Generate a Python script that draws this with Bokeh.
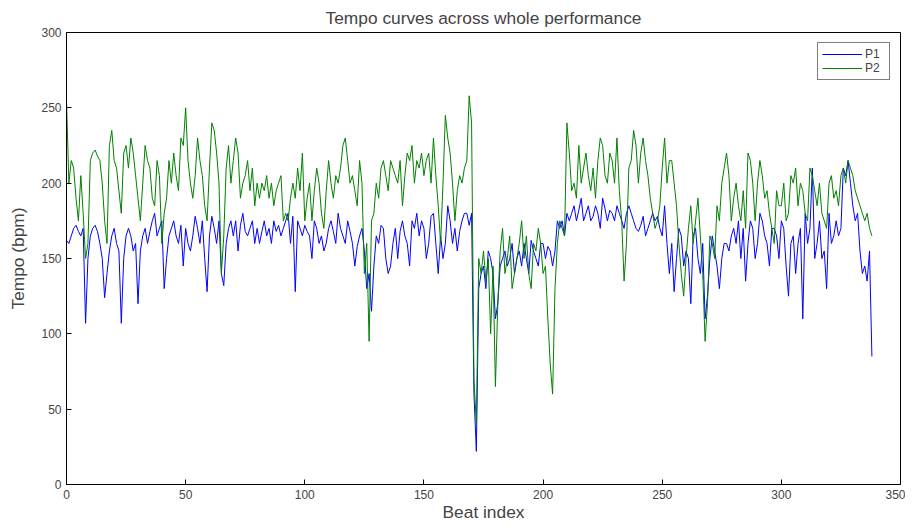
from bokeh.plotting import figure
from bokeh.embed import file_html
from bokeh.resources import INLINE
from bokeh.models import FixedTicker, Range1d, Legend, LegendItem

p1 = [162,160,165,170,172,168,165,170,107,150,
165,170,172,168,160,150,124,140,155,165,
170,160,155,107,150,165,170,165,155,160,
120,155,165,170,160,168,175,180,165,170,
175,130,150,165,170,175,165,160,172,145,
170,160,155,165,178,170,160,175,150,128,
165,178,170,160,175,140,132,160,170,175,
165,175,155,172,180,168,165,170,175,160,
170,160,168,175,165,170,160,175,168,172,
165,170,175,180,160,178,128,175,170,165,
172,168,165,150,175,170,160,165,155,160,
170,175,168,160,180,170,165,160,175,168,
160,145,158,165,170,155,130,140,115,145,
165,160,172,170,150,140,145,160,170,150,
168,175,165,160,145,175,170,180,165,175,
170,150,160,178,180,160,140,165,150,160,
185,175,160,170,155,168,175,180,180,172,
180,60,22,130,140,145,130,155,150,140,
110,120,145,150,155,145,150,160,140,150,
155,145,160,150,140,162,155,150,145,160,
160,150,158,155,145,155,175,170,175,165,
180,175,180,185,175,182,190,175,180,185,
175,178,185,180,170,190,183,175,182,180,
175,185,180,175,170,180,185,180,175,170,
168,172,178,165,170,175,180,175,178,170,
165,185,160,140,160,128,150,170,165,145,
155,150,120,165,170,150,140,160,110,125,
150,165,155,145,130,150,160,160,155,165,
170,160,175,150,170,135,160,175,170,150,
160,180,175,165,160,145,170,170,165,150,
175,170,145,125,160,165,140,160,170,110,
180,160,170,210,150,160,175,150,155,130,
180,160,165,175,165,170,210,205,215,200,
185,175,180,155,140,145,135,155,85]

p2 = [255,200,215,210,190,175,205,180,150,160,
215,220,222,218,215,200,175,160,225,235,
215,210,195,180,220,225,210,230,220,205,
190,175,200,225,215,210,190,185,215,205,
160,180,190,215,200,220,205,195,230,225,
250,215,200,190,205,230,215,205,185,175,
210,240,235,220,200,140,165,210,225,200,
215,230,220,190,200,205,215,195,210,185,
200,190,200,195,205,190,200,185,195,200,
205,175,180,175,190,200,190,210,195,220,
175,190,200,175,195,210,200,180,170,195,
215,200,190,205,200,210,225,230,215,200,
205,195,185,215,200,140,160,95,175,180,
200,190,210,215,205,195,215,210,205,200,
215,185,205,220,215,225,200,215,210,220,
205,215,220,200,230,205,185,160,200,245,
230,220,200,175,195,205,200,210,215,258,
240,70,40,150,140,155,135,150,100,145,
65,120,155,170,140,150,165,130,140,150,
160,175,150,165,140,130,160,155,170,160,
140,145,110,80,60,130,160,175,170,165,
240,220,195,200,190,225,200,210,220,205,
195,210,190,215,230,225,205,200,220,215,
200,230,195,175,135,160,210,215,235,225,
200,220,230,215,205,190,180,170,175,185,
210,230,200,215,215,200,185,160,140,125,
150,170,185,160,175,190,165,140,95,120,
165,160,150,185,175,200,210,220,205,175,
190,200,185,175,195,170,220,215,200,175,
200,215,205,190,195,180,170,160,195,185,
185,200,175,180,205,200,210,185,200,195,
180,175,210,205,195,185,200,180,175,170,
200,205,190,195,185,205,210,200,215,210,
205,195,190,185,180,175,180,170,165]

beats1 = list(range(len(p1)))
beats2 = list(range(len(p2)))
x_ticks = [0, 50, 100, 150, 200, 250, 300, 350]
y_ticks = [0, 50, 100, 150, 200, 250, 300]

p = figure(width=905, height=524, output_backend="svg", toolbar_location=None,
           x_range=Range1d(0, 350), y_range=Range1d(0, 300),
           title="Tempo curves across whole performance",
           min_border_left=66, min_border_right=5, min_border_bottom=36, min_border_top=18)
p.title.align = "center"
p.title.text_font = "Liberation Sans"
p.title.text_font_size = "13pt"
p.title.text_font_style = "normal"
p.xgrid.visible = False
p.ygrid.visible = False
p.outline_line_color = "black"
p.outline_line_width = 1

for ax, ticks in ((p.xaxis, x_ticks), (p.yaxis, y_ticks)):
    ax.ticker = FixedTicker(ticks=ticks)
    ax.major_tick_in = 5
    ax.major_tick_out = 0
    ax.minor_tick_line_color = None
    ax.major_label_text_font = "Liberation Sans"
    ax.major_label_text_font_size = "9pt"
    ax.axis_label_text_font = "Liberation Sans"
    ax.axis_label_text_font_size = "13pt"
    ax.axis_label_text_font_style = "normal"
    ax.axis_line_color = "black"
p.xaxis.axis_label = "Beat index"
p.yaxis.axis_label = "Tempo (bpm)"
p.xaxis.axis_label_standoff = 0
p.yaxis.axis_label_standoff = 10

r1 = p.line(beats1, p1, color="#0000ff", line_width=1)
r2 = p.line(beats2, p2, color="#008000", line_width=1)
leg = Legend(items=[LegendItem(label="P1", renderers=[r1]), LegendItem(label="P2", renderers=[r2])],
             location="top_right", border_line_color="black", label_text_font="Liberation Sans",
             label_text_font_size="9pt", glyph_width=40, spacing=0, padding=4, margin=10,
             label_standoff=3, label_height=14, glyph_height=14)
p.add_layout(leg)

open("out.html", "w").write(file_html(p, INLINE))
